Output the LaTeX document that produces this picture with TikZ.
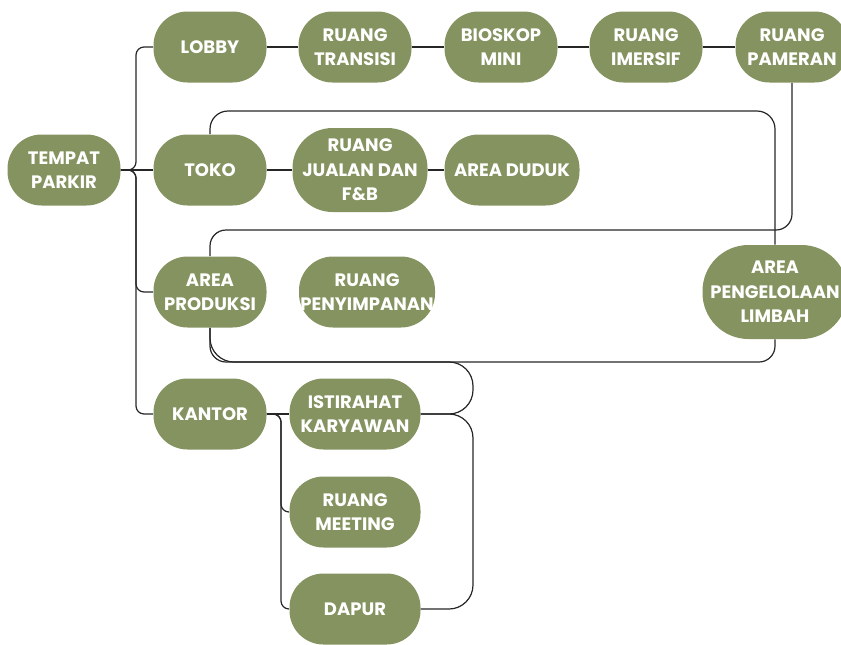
\documentclass[tikz,border=0pt]{standalone}
\usepackage{fontspec}
\setmainfont{Poppins}
\definecolor{sage}{HTML}{84935F}
\tikzset{
  room/.style={fill=sage, text=white, rounded corners=17pt, inner sep=0pt,
    minimum width=56.5pt, minimum height=35.5pt, align=center,
    font=\bfseries\fontsize{9}{12.25}\selectfont},
  link/.style={draw=black!85, line width=0.6pt, rounded corners=4pt},
}
\begin{document}
\begin{tikzpicture}[x=0.5pt,y=-0.5pt]
  \useasboundingbox (0,0) rectangle (841,644);
  % rooms
  \node[room] (parkir) at (64,170) {TEMPAT\\PARKIR};
  \node[room] (lobby) at (210,47) {LOBBY};
  \node[room] (transisi) at (355,47) {RUANG\\TRANSISI};
  \node[room] (bioskop) at (501,47) {BIOSKOP\\MINI};
  \node[room] (imersif) at (646,47) {RUANG\\IMERSIF};
  \node[room] (pameran) at (792,47) {RUANG\\PAMERAN};
  \node[room] (toko) at (210,170) {TOKO};
  \node[room, minimum width=67.5pt, minimum height=42pt, rounded corners=20pt] (jualan) at (360,170) {RUANG\\JUALAN DAN\\F\&B};
  \node[room, minimum width=67.5pt] (duduk) at (512,170) {AREA DUDUK};
  \node[room] (produksi) at (210,292) {AREA\\PRODUKSI};
  \node[room, minimum width=68pt] (simpan) at (367,292) {RUANG\\PENYIMPANAN};
  \node[room, minimum width=72.5pt, minimum height=47pt, rounded corners=23pt] (limbah) at (775,292) {AREA\\PENGELOLAAN\\LIMBAH};
  \node[room] (kantor) at (210,414) {KANTOR};
  \node[room, minimum width=65.5pt] (istirahat) at (355,414) {ISTIRAHAT\\KARYAWAN};
  \node[room, minimum width=65.5pt] (meeting) at (355,512) {RUANG\\MEETING};
  \node[room, minimum width=65.5pt] (dapur) at (355,609) {DAPUR};
  % from the parking
  \draw[link] (parkir.east) -- (toko.west);
  \foreach \r/\y in {lobby/47, produksi/292, kantor/414}
    \draw[link] (parkir.east) -- (136,170) -- (136,\y) -- (\r.west);
  % chains
  \foreach \a/\b in {lobby/transisi, transisi/bioskop, bioskop/imersif, imersif/pameran, toko/jualan, jualan/duduk, kantor/istirahat}
    \draw[link] (\a) -- (\b);
  % loops
  \draw[link, rounded corners=9pt] (toko.north) -- (210,111) -- (775,111) -- (limbah.north);
  \draw[link, rounded corners=8pt] (pameran.south) -- (792,230) -- (210,230) -- (produksi.north);
  \draw[link, rounded corners=8pt] (limbah.south) -- (775,362) -- (210,362) -- (produksi.south);
  \draw[link, rounded corners=12pt] (istirahat.east) -- (473,414) -- (473,362) -- (210,362) -- (produksi.south);
  \draw[link, rounded corners=12pt] (istirahat.east) -- (473,414) -- (473,609) -- (dapur.east);
  % office wing
  \foreach \r/\y in {meeting/512, dapur/609}
    \draw[link] (kantor.east) -- (281,414) -- (281,\y) -- (\r.west);
\end{tikzpicture}
\end{document}
